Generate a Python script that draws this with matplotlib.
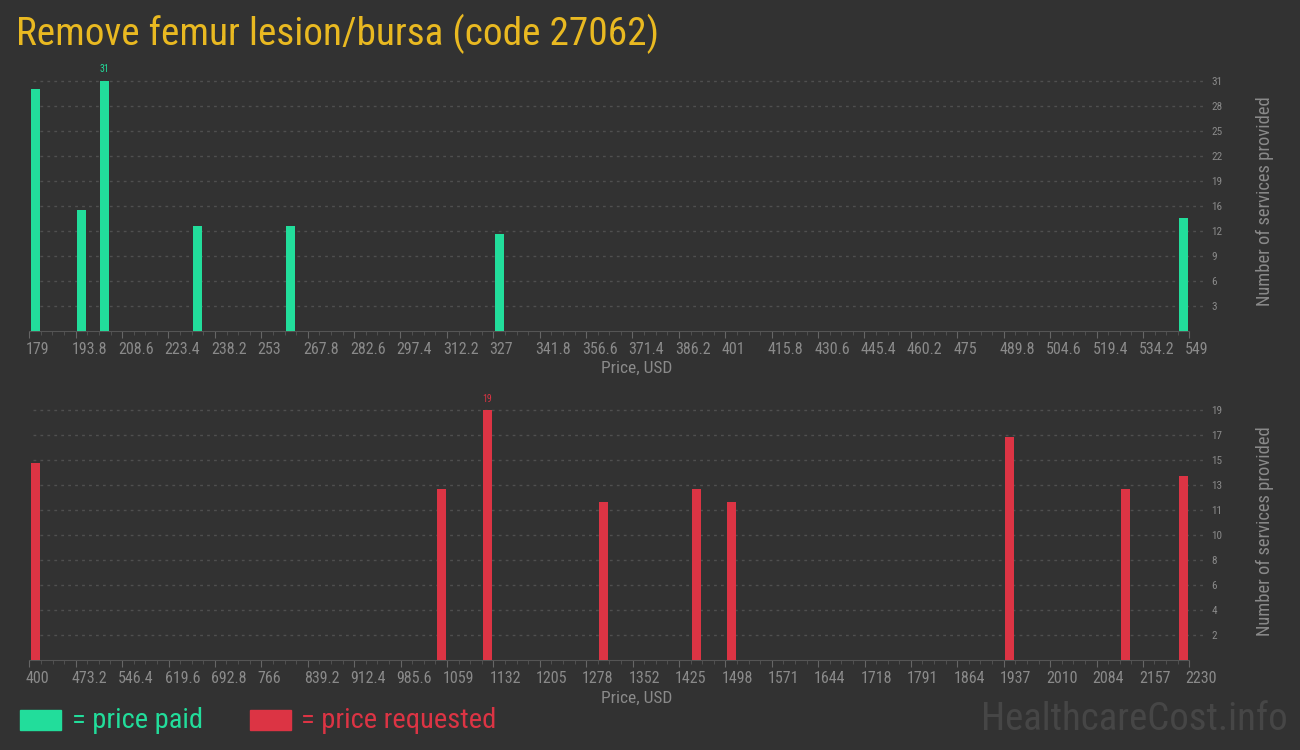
import matplotlib
matplotlib.use('Agg')
import matplotlib.pyplot as plt
from matplotlib.ticker import AutoMinorLocator
from matplotlib.patches import Rectangle
from matplotlib.transforms import ScaledTranslation
import numpy as np

TITLE = 'Remove femur lesion/bursa (code 27062)'

# price paid (top chart)
paid_prices = [181, 195.6, 203.1, 232.6, 262.3, 328.9, 547.1]
paid_counts = [30, 15, 31, 13, 13, 12, 14]
paid_range = (179, 549)

# price requested (bottom chart)
req_prices = [409.8, 1050.3, 1122.9, 1305.9, 1452.8, 1508, 1946.7, 2128.6, 2220.7]
req_counts = [15, 13, 19, 12, 13, 12, 17, 13, 14]
req_range = (400, 2230)

BG = '#323232'
GREEN = '#22dd9b'
RED = '#dc3444'
GOLD = '#e9b921'
GREY = '#8a8a8a'
FONT = ['Roboto Condensed', 'Liberation Sans Narrow', 'Roboto', 'DejaVu Sans']

plt.rcParams['font.family'] = FONT

fig = plt.figure(figsize=(13, 7.5), dpi=100, facecolor=BG)

W, H = 1300, 750


def px_axes(left, top, right, bottom):
    return fig.add_axes([left / W, 1 - bottom / H, (right - left) / W, (bottom - top) / H])


def draw_panel(ax, prices, counts, rng, color, bar_px):
    ax.set_facecolor(BG)
    lo, hi = rng
    ymax = max(counts)
    ax.set_xlim(lo, hi)
    ax.set_ylim(0, ymax)
    step = (hi - lo) / 25
    width = bar_px / 1160 * (hi - lo)

    ax.bar(prices, counts, width=width, color=color, zorder=3)

    # value label over the tallest bar
    i = int(np.argmax(counts))
    ax.text(prices[i], counts[i] + ymax * 0.025, str(counts[i]), color=color,
            fontsize=7, ha='center', va='bottom', clip_on=False)

    # dashed grid, reaching a bit past the right edge
    yt = [ymax / 10 * k for k in range(1, 11)]
    for y in yt:
        ax.plot([0.003, 1.0135], [y, y], transform=ax.get_yaxis_transform(),
                color='#4f4f4f', lw=1, ls=(0, (2, 3)), clip_on=False, zorder=1)

    ax.yaxis.tick_right()
    ax.set_yticks(yt)
    ax.set_yticklabels([str(int(v + 0.5)) for v in yt])
    ax.tick_params(axis='y', length=0, pad=16, labelsize=8, labelcolor=GREY)

    xt = [lo + step * k for k in range(26)]
    ax.set_xticks(xt)
    ax.set_xticklabels(['{:.4g}'.format(v) for v in xt])
    ax.xaxis.set_minor_locator(AutoMinorLocator(4))
    ax.tick_params(axis='x', which='major', length=5, color='#666666', labelsize=11.5,
                   labelcolor=GREY, pad=3)
    ax.tick_params(axis='x', which='minor', length=3, color='#555555')
    shift = ScaledTranslation(-4 / 100, 0, fig.dpi_scale_trans)
    for lbl in ax.get_xticklabels():
        lbl.set_horizontalalignment('left')
        lbl.set_transform(lbl.get_transform() + shift)

    for s in ['top', 'right', 'left']:
        ax.spines[s].set_visible(False)
    ax.spines['bottom'].set_color('#555555')


ax1 = px_axes(29.3, 80.7, 1189.3, 330.7)
draw_panel(ax1, paid_prices, paid_counts, paid_range, GREEN, 9)

ax2 = px_axes(29.3, 410.3, 1189.3, 660.3)
draw_panel(ax2, req_prices, req_counts, req_range, RED, 9)

fig.text(16 / W, 1 - 34 / H, TITLE, color=GOLD, fontsize=28.3, va='center', ha='left')

for yc in (368, 698):
    fig.text(637 / W, 1 - yc / H, 'Price, USD', color=GREY, fontsize=12.5,
             ha='center', va='center')
for yc in (201, 531):
    fig.text(1265 / W, 1 - yc / H, 'Number of services provided', color=GREY,
             fontsize=13.3, rotation=90, ha='center', va='center')

# legend
fig.patches.append(Rectangle((20 / W, 1 - 730 / H), 41 / W, 20 / H,
                             transform=fig.transFigure, color=GREEN))
fig.text(72 / W, 1 - 720 / H, '= price paid', color=GREEN, fontsize=20.5,
         ha='left', va='center')
fig.patches.append(Rectangle((250 / W, 1 - 730 / H), 41 / W, 20 / H,
                             transform=fig.transFigure, color=RED))
fig.text(301 / W, 1 - 720 / H, '= price requested', color=RED, fontsize=20.5,
         ha='left', va='center')

fig.text(1288 / W, 1 - 720 / H, 'HealthcareCost.info', color='#464646',
         fontsize=28, ha='right', va='center')

fig.savefig('out.png', dpi=100, facecolor=BG)
